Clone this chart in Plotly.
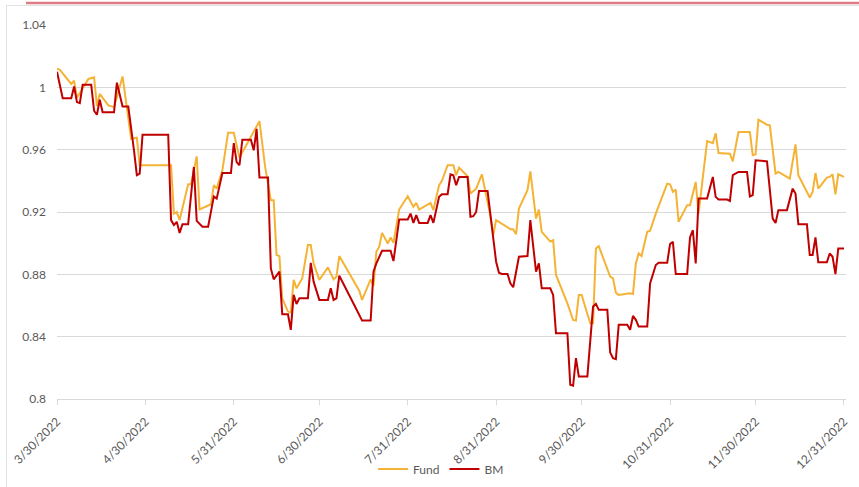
import plotly.graph_objects as go

# ---------------- data ----------------
fund_dates = [
    "2022-03-30", "2022-03-31", "2022-04-04", "2022-04-05", "2022-04-06", "2022-04-10", "2022-04-12",
    "2022-04-13", "2022-04-14", "2022-04-17", "2022-04-19", "2022-04-22", "2022-04-25", "2022-04-27",
    "2022-04-28",
    "2022-05-09", "2022-05-10", "2022-05-11", "2022-05-12", "2022-05-15", "2022-05-16", "2022-05-18",
    "2022-05-19", "2022-05-23", "2022-05-24", "2022-05-25", "2022-05-27", "2022-05-29", "2022-05-31",
    "2022-06-02", "2022-06-05", "2022-06-09", "2022-06-11", "2022-06-13", "2022-06-14", "2022-06-15",
    "2022-06-16", "2022-06-17", "2022-06-19", "2022-06-20", "2022-06-21", "2022-06-22", "2022-06-24",
    "2022-06-26", "2022-06-27", "2022-06-28", "2022-06-30",
    "2022-07-03", "2022-07-05", "2022-07-06", "2022-07-07", "2022-07-14", "2022-07-15", "2022-07-17",
    "2022-07-18", "2022-07-19", "2022-07-20", "2022-07-21", "2022-07-22", "2022-07-24", "2022-07-25",
    "2022-07-26", "2022-07-28", "2022-07-31",
    "2022-08-02", "2022-08-03", "2022-08-04", "2022-08-08", "2022-08-09", "2022-08-11", "2022-08-12",
    "2022-08-14", "2022-08-16", "2022-08-17", "2022-08-18", "2022-08-21", "2022-08-22", "2022-08-24",
    "2022-08-26", "2022-08-29", "2022-08-30", "2022-08-31",
    "2022-09-05", "2022-09-06", "2022-09-07", "2022-09-08", "2022-09-11", "2022-09-12", "2022-09-14",
    "2022-09-15", "2022-09-16", "2022-09-19", "2022-09-20", "2022-09-21", "2022-09-25", "2022-09-27",
    "2022-09-28", "2022-09-29", "2022-09-30",
    "2022-10-03", "2022-10-04", "2022-10-05", "2022-10-06", "2022-10-10", "2022-10-11", "2022-10-12",
    "2022-10-13", "2022-10-17", "2022-10-18", "2022-10-19", "2022-10-20", "2022-10-21", "2022-10-23",
    "2022-10-24", "2022-10-26", "2022-10-30", "2022-10-31",
    "2022-11-01", "2022-11-02", "2022-11-03", "2022-11-06", "2022-11-07", "2022-11-09", "2022-11-10",
    "2022-11-13", "2022-11-15", "2022-11-16", "2022-11-17", "2022-11-21", "2022-11-22", "2022-11-24",
    "2022-11-28", "2022-11-29", "2022-11-30",
    "2022-12-01", "2022-12-04", "2022-12-05", "2022-12-07", "2022-12-08", "2022-12-12", "2022-12-14",
    "2022-12-15", "2022-12-19", "2022-12-20", "2022-12-21", "2022-12-22", "2022-12-25", "2022-12-26",
    "2022-12-27", "2022-12-28", "2022-12-29", "2022-12-31",
]
fund_values = [
    1.012, 1.0112, 1.0022, 1.0042, 0.9933, 1.0054, 1.0065,
    0.988, 0.9958, 0.9884, 0.9873, 1.007, 0.967, 0.9677,
    0.95,
    0.95, 0.919, 0.920, 0.9148, 0.9378, 0.9378, 0.9557,
    0.9216, 0.925, 0.9372, 0.935, 0.9468, 0.9709, 0.9709,
    0.9549, 0.9649, 0.9783, 0.9489, 0.9276, 0.9276, 0.8924,
    0.8917, 0.8646, 0.8561, 0.8554, 0.8764, 0.871, 0.8774,
    0.8988, 0.8988, 0.887, 0.8764,
    0.8845, 0.8768, 0.8785, 0.8917, 0.8695, 0.8636, 0.8731,
    0.8768, 0.8725, 0.8945, 0.8977, 0.9066, 0.8998, 0.9037,
    0.9002, 0.9216, 0.9301,
    0.9233, 0.9258, 0.9216, 0.9258, 0.9212, 0.9372, 0.940,
    0.95, 0.95, 0.9436, 0.9485, 0.9429, 0.9318, 0.935,
    0.9442, 0.9174, 0.9052, 0.9148,
    0.909, 0.909, 0.9058, 0.9222, 0.934, 0.946, 0.9158,
    0.9216, 0.9073, 0.901, 0.902, 0.8796, 0.8614, 0.8507,
    0.8503, 0.8668, 0.8668,
    0.8486, 0.8486, 0.8966, 0.8981, 0.8785, 0.8774, 0.8682,
    0.8668, 0.8678, 0.8674, 0.887, 0.8934, 0.8917, 0.9073,
    0.908, 0.919, 0.9382, 0.9378,
    0.9329, 0.9344, 0.9137, 0.9244, 0.9244, 0.9393, 0.919,
    0.9655, 0.9642, 0.9706, 0.9578, 0.9574, 0.9525, 0.9713,
    0.9713, 0.9564, 0.957,
    0.9792, 0.976, 0.9756, 0.9446, 0.9457, 0.9414, 0.9634,
    0.9436, 0.9293, 0.9329, 0.945, 0.935, 0.9421, 0.9425,
    0.9442, 0.9314, 0.9442, 0.9425,
]

bm_dates = [
    "2022-03-30", "2022-04-01", "2022-04-04", "2022-04-05", "2022-04-06", "2022-04-07", "2022-04-08",
    "2022-04-11", "2022-04-12", "2022-04-13", "2022-04-14", "2022-04-15", "2022-04-19", "2022-04-20",
    "2022-04-22", "2022-04-24", "2022-04-26", "2022-04-27", "2022-04-28", "2022-04-29",
    "2022-05-08", "2022-05-09", "2022-05-10", "2022-05-11", "2022-05-12", "2022-05-13", "2022-05-15",
    "2022-05-17", "2022-05-18", "2022-05-20", "2022-05-22", "2022-05-24", "2022-05-25", "2022-05-27",
    "2022-05-30", "2022-05-31",
    "2022-06-01", "2022-06-02", "2022-06-03", "2022-06-06", "2022-06-07", "2022-06-08", "2022-06-09",
    "2022-06-12", "2022-06-13", "2022-06-14", "2022-06-16", "2022-06-17", "2022-06-19", "2022-06-20",
    "2022-06-21", "2022-06-22", "2022-06-23", "2022-06-26", "2022-06-27", "2022-06-28", "2022-06-30",
    "2022-07-03", "2022-07-04", "2022-07-05", "2022-07-06", "2022-07-07", "2022-07-13", "2022-07-15",
    "2022-07-18", "2022-07-19", "2022-07-20", "2022-07-22", "2022-07-25", "2022-07-26", "2022-07-28",
    "2022-07-31",
    "2022-08-01", "2022-08-02", "2022-08-03", "2022-08-04", "2022-08-07", "2022-08-08", "2022-08-09",
    "2022-08-11", "2022-08-12", "2022-08-14", "2022-08-15", "2022-08-16", "2022-08-17", "2022-08-18",
    "2022-08-21", "2022-08-22", "2022-08-23", "2022-08-24", "2022-08-25", "2022-08-28", "2022-08-31",
    "2022-09-01", "2022-09-02", "2022-09-04", "2022-09-05", "2022-09-06", "2022-09-08", "2022-09-11",
    "2022-09-12", "2022-09-14", "2022-09-15", "2022-09-16", "2022-09-19", "2022-09-20", "2022-09-21",
    "2022-09-25", "2022-09-26", "2022-09-27", "2022-09-28", "2022-09-29",
    "2022-10-02", "2022-10-04", "2022-10-05", "2022-10-06", "2022-10-09", "2022-10-10", "2022-10-11",
    "2022-10-12", "2022-10-13", "2022-10-16", "2022-10-17", "2022-10-18", "2022-10-19", "2022-10-20",
    "2022-10-23", "2022-10-24", "2022-10-26", "2022-10-27", "2022-10-30", "2022-10-31",
    "2022-11-01", "2022-11-02", "2022-11-06", "2022-11-07", "2022-11-08", "2022-11-09", "2022-11-10",
    "2022-11-13", "2022-11-15", "2022-11-16", "2022-11-17", "2022-11-20", "2022-11-21", "2022-11-22",
    "2022-11-24", "2022-11-27", "2022-11-28", "2022-11-29", "2022-11-30",
    "2022-12-04", "2022-12-06", "2022-12-07", "2022-12-08", "2022-12-11", "2022-12-13", "2022-12-14",
    "2022-12-15", "2022-12-18", "2022-12-19", "2022-12-20", "2022-12-21", "2022-12-22", "2022-12-25",
    "2022-12-26", "2022-12-27", "2022-12-28", "2022-12-29", "2022-12-31",
]
bm_values = [
    1.010, 0.993, 0.993, 1.0005, 0.9905, 0.9898, 1.0016,
    1.0016, 0.985, 0.9824, 0.992, 0.984, 0.984, 1.003,
    0.9877, 0.9877, 0.9596, 0.9436, 0.9446, 0.9696,
    0.9696, 0.9148, 0.9116, 0.9137, 0.9066, 0.9122, 0.9122,
    0.9489, 0.9143, 0.9105, 0.9105, 0.930, 0.9286, 0.945,
    0.945, 0.9642,
    0.952, 0.95, 0.9664, 0.9664, 0.9596, 0.9734, 0.9421,
    0.9421, 0.8838, 0.8768, 0.8817, 0.8544, 0.8544, 0.8444,
    0.8668, 0.861, 0.8646, 0.8646, 0.8874, 0.8753, 0.8636,
    0.8636, 0.871, 0.8636, 0.8646, 0.8791, 0.8576, 0.8503,
    0.8503, 0.8817, 0.887, 0.8951, 0.8951, 0.8885, 0.9152,
    0.9152,
    0.919, 0.913, 0.918, 0.913, 0.913, 0.918, 0.913,
    0.9297, 0.9314, 0.9314, 0.9442, 0.9436, 0.9372, 0.9425,
    0.9425, 0.9169, 0.9173, 0.920, 0.9335, 0.9335, 0.8881,
    0.881, 0.8802, 0.8802, 0.8742, 0.8717, 0.8913, 0.8917,
    0.9148, 0.8817, 0.887, 0.871, 0.871, 0.8668, 0.8422,
    0.8422, 0.8091, 0.8085, 0.8262, 0.8145,
    0.8145, 0.8593, 0.861, 0.8572, 0.8572, 0.8298, 0.8262,
    0.8256, 0.8476, 0.8476, 0.8444, 0.8533, 0.8508, 0.8465,
    0.8465, 0.8742, 0.886, 0.8874, 0.8874, 0.8994,
    0.9009, 0.8802, 0.8802, 0.9037, 0.9083, 0.887, 0.9286,
    0.9286, 0.9425, 0.9297, 0.928, 0.928, 0.9271, 0.9436,
    0.9457, 0.9457, 0.930, 0.9308, 0.9532,
    0.9525, 0.9158, 0.913, 0.9212, 0.9212, 0.935, 0.9318,
    0.9122, 0.9122, 0.8924, 0.8924, 0.9037, 0.8877, 0.8877,
    0.8934, 0.8913, 0.8802, 0.8966, 0.8966,
]

x_tick_dates = ["2022-03-30", "2022-04-30", "2022-05-31", "2022-06-30", "2022-07-31",
                "2022-08-31", "2022-09-30", "2022-10-31", "2022-11-30", "2022-12-31"]
x_tick_labels = ["3/30/2022", "4/30/2022", "5/31/2022", "6/30/2022", "7/31/2022",
                 "8/31/2022", "9/30/2022", "10/31/2022", "11/30/2022", "12/31/2022"]
y_tick_values = [0.8, 0.84, 0.88, 0.92, 0.96, 1.0, 1.04]
y_tick_labels = ["0.8", "0.84", "0.88", "0.92", "0.96", "1", "1.04"]

# ---------------- figure ----------------
FONT = "Lato, 'Open Sans', sans-serif"
GRAY_TXT = "#595959"
GRID = "#D9D9D9"

fig = go.Figure()
fig.add_trace(go.Scatter(x=fund_dates, y=fund_values, name="Fund", mode="lines",
                         line=dict(color="#F5B335", width=2)))
fig.add_trace(go.Scatter(x=bm_dates, y=bm_values, name="BM", mode="lines",
                         line=dict(color="#C00000", width=2)))

W, H = 859, 487
L, R, T, B = 57, 13, 25, 88
pw, ph = W - L - R, H - T - B


def px(xp):
    return (xp - L) / pw


def py(yp):
    return (H - B - yp) / ph


fig.update_layout(
    width=W, height=H,
    margin=dict(l=L, r=R, t=T, b=B, autoexpand=False),
    paper_bgcolor="white", plot_bgcolor="white",
    font=dict(family=FONT, size=12, color=GRAY_TXT),
    showlegend=True,
    legend=dict(orientation="h", x=px(441), xanchor="center", y=py(469), yanchor="middle",
                font=dict(family=FONT, size=12, color=GRAY_TXT), bgcolor="rgba(0,0,0,0)",
                itemwidth=30, tracegroupgap=0),
    xaxis=dict(type="date", range=["2022-03-30", "2022-12-31 17:00"],
               tickmode="array", tickvals=x_tick_dates, ticktext=x_tick_labels,
               tickangle=-45, ticks="outside", ticklen=5, tickcolor=GRID,
               ticklabelstandoff=5,
               showline=True, linecolor=GRID, linewidth=1, showgrid=False, zeroline=False,
               tickfont=dict(family=FONT, size=12, color=GRAY_TXT), automargin=False),
    yaxis=dict(range=[0.8, 1.04], tickmode="array", tickvals=y_tick_values, ticktext=y_tick_labels,
               showgrid=True, gridcolor=GRID, gridwidth=1, zeroline=False, showline=False,
               ticks="", ticklabelstandoff=10,
               tickfont=dict(family=FONT, size=12, color=GRAY_TXT), automargin=False),
    shapes=[
        dict(type="line", xref="paper", yref="paper", x0=px(26), x1=px(859), y0=py(3), y1=py(3),
             line=dict(color="#E07C86", width=2.5)),
        dict(type="line", xref="paper", yref="paper", x0=px(6), x1=px(859), y0=py(5.5), y1=py(5.5),
             line=dict(color="#E3E3E3", width=1)),
        dict(type="line", xref="paper", yref="paper", x0=px(6.5), x1=px(6.5), y0=py(5.5), y1=py(487),
             line=dict(color="#E3E3E3", width=1)),
    ],
)

fig.write_html("out.html", config={"displayModeBar": False},
               post_script="document.body.style.margin='0px';document.body.style.padding='0px';")
